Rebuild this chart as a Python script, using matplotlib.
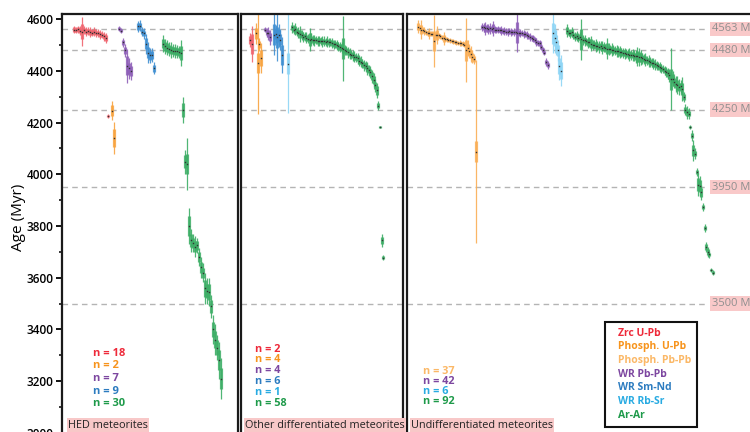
import matplotlib
matplotlib.use('Agg')
import matplotlib.pyplot as plt
import numpy as np
from matplotlib.ticker import MultipleLocator
from matplotlib.patches import Rectangle

plt.rcParams['font.family'] = ['Open Sans', 'DejaVu Sans']

# ---------------- data ----------------
# HED meteorites
hed_zrc = [4560, 4557, 4561, 4556, 4552, 4558, 4551, 4554, 4550, 4548, 4551, 4546, 4547, 4542, 4540, 4533, 4527, 4225]
hed_zrc_err = [15, 12, 14, 18, 55, 16, 18, 14, 20, 15, 18, 15, 16, 17, 14, 16, 18, 8]
hed_phos = [4246, 4140]
hed_phos_err = [37, 62]
hed_wrpb = [4563, 4555, 4510, 4480, 4420, 4410, 4400]
hed_wrpb_err = [10, 10, 18, 25, 65, 40, 35]
hed_smnd = [4572, 4575, 4552, 4545, 4505, 4470, 4460, 4462, 4410]
hed_smnd_err = [22, 20, 17, 20, 38, 40, 30, 28, 23]
hed_ar = [4505, 4495, 4490, 4485, 4480, 4478, 4476, 4475, 4473, 4470,
          4248, 4048, 4040, 3800, 3745, 3733, 3720, 3725, 3680, 3640,
          3620, 3560, 3550, 3545, 3490, 3400, 3360, 3330, 3280, 3210]
hed_ar_err = [33, 30, 30, 28, 30, 25, 28, 27, 25, 50,
              50, 45, 100, 70, 45, 35, 40, 30, 35, 40,
              35, 60, 50, 55, 45, 55, 60, 50, 70, 80]

# Other differentiated meteorites
odm_zrc = [4520, 4505]
odm_zrc_err = [27, 70]
odm_phos = [4545, 4430, 4503, 4450]
odm_phos_err = [40, 195, 25, 58]
odm_wrpb = [4560, 4548, 4545, 4530]
odm_wrpb_err = [10, 18, 25, 28]
odm_smnd = [4540, 4542, 4530, 4538, 4520, 4460]
odm_smnd_err = [80, 35, 90, 45, 38, 70]
odm_rbsr = [4428]
odm_rbsr_err = [192]
odm_ar = [4568, 4560, 4562, 4551, 4548, 4542, 4540, 4532, 4535, 4528,
          4524, 4521, 4525, 4519, 4518, 4520, 4516, 4516, 4517, 4514,
          4515, 4513, 4514, 4510, 4512, 4508, 4503, 4505, 4499, 4495,
          4492, 4490, 4486, 4482, 4478, 4472, 4467, 4463, 4460, 4455,
          4452, 4448, 4440, 4436, 4429, 4422, 4418, 4410, 4402, 4396,
          4380, 4364, 4345, 4325, 4265, 4183, 3745, 3678]
odm_ar_err = [20, 18, 22, 15, 20, 30, 18, 20, 15, 22,
              18, 45, 20, 18, 22, 15, 20, 18, 15, 20,
              18, 15, 20, 18, 15, 20, 18, 15, 20, 18,
              20, 22, 125, 20, 18, 22, 20, 18, 20, 22,
              18, 20, 22, 20, 18, 22, 20, 25, 20, 22,
              25, 28, 25, 30, 18, 5, 25, 8]

# Undifferentiated meteorites
um_phpb = [4570, 4566, 4560, 4557, 4553, 4550, 4546, 4545, 4544, 4543,
           4515, 4540, 4539, 4537, 4533, 4528, 4526, 4524, 4522, 4520,
           4519, 4516, 4514, 4512, 4510, 4509, 4508, 4506, 4505, 4502,
           4480, 4488, 4475, 4466, 4455, 4445, 4087]
um_phpb_err = [25, 12, 35, 12, 15, 10, 12, 20, 10, 10,
               100, 12, 35, 10, 10, 10, 25, 10, 10, 8,
               10, 8, 10, 8, 10, 8, 10, 8, 10, 10,
               124, 30, 25, 30, 25, 20, 354]
um_wrpb = [4570, 4568, 4564, 4566, 4562, 4564, 4561, 4564, 4560, 4559,
           4560, 4557, 4557, 4555, 4553, 4552, 4551, 4553, 4550, 4551,
           4549, 4550, 4548, 4547, 4546, 4545, 4543, 4542, 4539, 4536,
           4532, 4528, 4525, 4519, 4512, 4508, 4506, 4493, 4480, 4470,
           4435, 4422]
um_wrpb_err = [15, 18, 25, 15, 18, 20, 15, 28, 15, 12,
               15, 12, 18, 12, 15, 12, 15, 12, 15, 12,
               15, 12, 75, 12, 15, 12, 15, 12, 15, 12,
               15, 12, 15, 12, 15, 12, 15, 12, 12, 10,
               15, 15]
um_rbsr = [4545, 4526, 4510, 4480, 4420, 4400]
um_rbsr_err = [75, 55, 50, 40, 55, 60]
um_ar = [4555, 4548, 4545, 4550, 4538, 4532, 4535, 4528, 4530, 4522,
         4520, 4518, 4514, 4510, 4512, 4505, 4500, 4502, 4498, 4495,
         4493, 4496, 4490, 4492, 4488, 4486, 4485, 4483, 4482, 4480,
         4478, 4477, 4475, 4473, 4472, 4470, 4468, 4467, 4465, 4463,
         4462, 4461, 4459, 4457, 4456, 4454, 4452, 4449, 4446, 4443,
         4441, 4438, 4435, 4432, 4429, 4425, 4422, 4418, 4415, 4410,
         4406, 4401, 4396, 4390, 4383, 4367, 4370, 4357, 4350, 4345,
         4338, 4340, 4330, 4300, 4250, 4240, 4235, 4182, 4150, 4093,
         4080, 4010, 3960, 3955, 3930, 3873, 3791, 3720, 3700, 3690,
         3630, 3620]
um_ar_err = [25, 15, 18, 20, 15, 18, 20, 15, 22, 80,
             18, 20, 15, 22, 18, 30, 20, 18, 25, 20,
             22, 18, 25, 20, 15, 40, 22, 18, 25, 20,
             18, 22, 20, 25, 18, 20, 22, 18, 20, 25,
             18, 22, 20, 25, 38, 35, 30, 22, 20, 25,
             18, 22, 20, 18, 22, 20, 18, 15, 20, 18,
             15, 18, 20, 22, 25, 120, 30, 25, 30, 35,
             30, 25, 45, 20, 20, 25, 20, 8, 20, 40,
             20, 15, 45, 40, 30, 15, 15, 20, 20, 12,
             8, 8]

ref_ages = [4563, 4480, 4250, 3950, 3500]
panel_names = ['HED meteorites', 'Other differentiated meteorites', 'Undifferentiated meteorites']
legend_labels = ['Zrc U-Pb', 'Phosph. U-Pb', 'Phosph. Pb-Pb', 'WR Pb-Pb', 'WR Sm-Nd', 'WR Rb-Sr', 'Ar-Ar']

# ---------------- styles ----------------
bar_col = {'zrc': '#F0646E', 'phos': '#F8A33F', 'phpb': '#FAAE55', 'wrpb': '#8E5FB8',
           'smnd': '#3F8FD2', 'rbsr': '#8ED5F5', 'ar': '#3DAE66'}
txt_col = {'zrc': '#EE2A3A', 'phos': '#F7941D', 'phpb': '#FBB867', 'wrpb': '#7D47A0',
           'smnd': '#2D7CC0', 'rbsr': '#29ABE2', 'ar': '#1E9A4A'}
legend_keys = ['zrc', 'phos', 'phpb', 'wrpb', 'smnd', 'rbsr', 'ar']

W, H = 750, 432
fig = plt.figure(figsize=(7.5, 4.32), dpi=100)
fig.patch.set_facecolor('white')

YTOP, YBOT = 14, 438
YLIM = (2980, 4620)


def px_axes(x0, x1):
    return fig.add_axes([x0 / W, 1 - YBOT / H, (x1 - x0) / W, (YBOT - YTOP) / H])


def draw(ax, start, vals, errs, key):
    x = start + np.arange(len(vals))
    v = np.asarray(vals, float)
    e = np.asarray(errs, float)
    c = bar_col[key]
    ax.vlines(x, v - e, v + e, color=c, lw=0.9, alpha=0.9, zorder=2)
    inner = np.minimum(0.55 * e, 40)
    ax.vlines(x, v - inner, v + inner, color=c, lw=2.3, alpha=0.85, zorder=3)
    ax.plot(x, v, ls='none', marker='s', ms=1.0, mew=0, color='#333333', zorder=4)


ax1 = px_axes(62, 238)
ax2 = px_axes(241, 403)
ax3 = px_axes(407, 800)
ax1.set_xlim(0, 88)
ax2.set_xlim(0, 101.25)
ax3.set_xlim(0, 245.6)

for ax in (ax1, ax2, ax3):
    ax.set_ylim(*YLIM)
    ax.set_xticks([])
    for s in ax.spines.values():
        s.set_linewidth(1.6)
        s.set_color('#1a1a1a')
    ax.set_facecolor('white')

for ax in (ax2, ax3):
    ax.set_yticks([])

ax1.yaxis.set_major_locator(MultipleLocator(200))
ax1.yaxis.set_minor_locator(MultipleLocator(100))
ax1.tick_params(axis='y', which='major', direction='out', length=4, width=1.3,
                labelsize=8.5, pad=2)
ax1.tick_params(axis='y', which='minor', direction='out', length=2.5, width=1.1)
for lab in ax1.get_yticklabels():
    lab.set_fontweight('semibold')

# reference lines
for ax in (ax1, ax2):
    for a in ref_ages:
        ax.axhline(a, color='#b4b4b4', lw=1.0, ls=(0, (4, 3)), zorder=1)
for a in ref_ages:
    ax3.hlines(a, 0, 188, color='#b4b4b4', lw=1.0, ls=(0, (4, 3)), zorder=1)
    ax3.text(190.6, a, f'{a} Myr', fontsize=8, color='#8f8f8f', va='center', ha='left',
             bbox=dict(facecolor='#f9c9c9', edgecolor='none', pad=1.2), zorder=5)

# panel 1
draw(ax1, 6, hed_zrc, hed_zrc_err, 'zrc')
draw(ax1, 25, hed_phos, hed_phos_err, 'phos')
draw(ax1, 28.5, hed_wrpb, hed_wrpb_err, 'wrpb')
draw(ax1, 38, hed_smnd, hed_smnd_err, 'smnd')
draw(ax1, 50.5, hed_ar, hed_ar_err, 'ar')

# panel 2
draw(ax2, 5.6, odm_zrc, odm_zrc_err, 'zrc')
draw(ax2, 9.4, odm_phos, odm_phos_err, 'phos')
draw(ax2, 15, odm_wrpb, odm_wrpb_err, 'wrpb')
draw(ax2, 20.6, odm_smnd, odm_smnd_err, 'smnd')
draw(ax2, 29.4, odm_rbsr, odm_rbsr_err, 'rbsr')
draw(ax2, 31.9, odm_ar, odm_ar_err, 'ar')

# panel 3
draw(ax3, 6.9, um_phpb, um_phpb_err, 'phpb')
draw(ax3, 46.9, um_wrpb, um_wrpb_err, 'wrpb')
draw(ax3, 91.25, um_rbsr, um_rbsr_err, 'rbsr')
draw(ax3, 100, um_ar, um_ar_err, 'ar')

# y label
fig.text(18 / W, 1 - 217 / H, 'Age (Myr)', rotation=90, fontsize=11, va='center', ha='center')

# n counts
def ncounts(x, y0, dy, items, fs):
    for i, (vals, key) in enumerate(items):
        fig.text(x / W, 1 - (y0 + i * dy) / H, f'n = {len(vals)}', color=txt_col[key],
                 fontsize=fs, fontweight='bold', va='center', ha='left')

ncounts(93, 353, 12.75, [(hed_zrc, 'zrc'), (hed_phos, 'phos'), (hed_wrpb, 'wrpb'),
                         (hed_smnd, 'smnd'), (hed_ar, 'ar')], 8)
ncounts(255, 349, 10.8, [(odm_zrc, 'zrc'), (odm_phos, 'phos'), (odm_wrpb, 'wrpb'),
                         (odm_smnd, 'smnd'), (odm_rbsr, 'rbsr'), (odm_ar, 'ar')], 7.8)
ncounts(423, 371, 10.3, [(um_phpb, 'phpb'), (um_wrpb, 'wrpb'), (um_rbsr, 'rbsr'),
                         (um_ar, 'ar')], 7.8)

# panel names
for xpx, name in zip([68, 245, 411], panel_names):
    fig.text(xpx / W, 1 - 425 / H, name, fontsize=7.8, color='#222222', va='center', ha='left',
             bbox=dict(facecolor='#f8c8c8', edgecolor='none', pad=1.0))

# legend box
fig.patches.append(Rectangle((605 / W, 1 - 427 / H), 92 / W, 105 / H, transform=fig.transFigure,
                             facecolor='white', edgecolor='#111111', lw=1.5, zorder=6))
for i, (lab, key) in enumerate(zip(legend_labels, legend_keys)):
    fig.text(618 / W, 1 - (333 + i * 13.7) / H, lab, color=txt_col[key], fontsize=7.5,
             fontweight='bold', va='center', ha='left', zorder=7)

fig.savefig('out.png', dpi=100)
